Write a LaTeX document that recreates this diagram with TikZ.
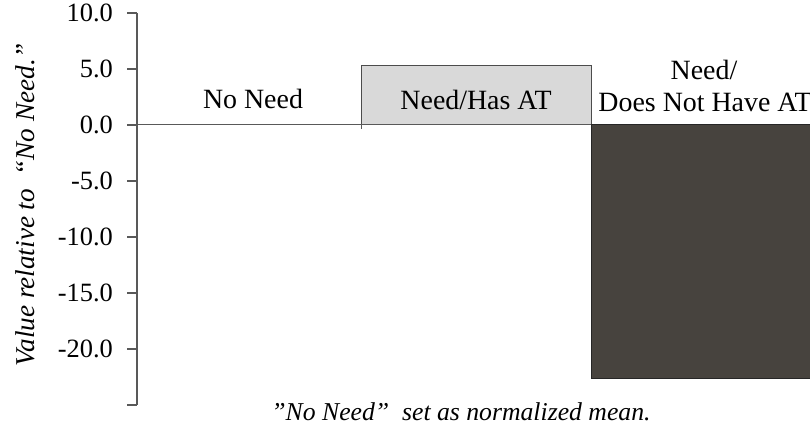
\documentclass[tikz,border=0pt]{standalone}
\usepackage{fontspec}
\setmainfont{Liberation Serif}
\begin{document}
\begin{tikzpicture}[x=1bp,y=-1bp,
  lbl/.style={font=\fontsize{28}{33}\selectfont, inner sep=0pt},
  ticklbl/.style={font=\fontsize{26.5}{31}\selectfont, inner sep=0pt, anchor=east},
  axisline/.style={draw=black!65, line width=1.2bp},
  tickline/.style={draw=black!65, line width=1.2bp},
  barlight/.style={fill=lightbar, draw=black!70, line width=1bp},
  bardark/.style={fill=darkbar, draw=black!85, line width=1bp}]
\definecolor{lightbar}{HTML}{D9D9D9}
\definecolor{darkbar}{HTML}{47433E}
\useasboundingbox (0,0) rectangle (810,435);

% bars
\path[barlight] (361,66) rectangle (591,125);
\path[bardark] (591,125) rectangle (812,378);

% zero line and category ticks
\coordinate (z0) at (137,125);
\coordinate (z1) at (591,125);
\draw[axisline, line width=1bp] (z0) -- (z1);
\draw[tickline, line width=1bp] (361,125) -- (361,129);

% value axis
\coordinate (atop) at (137,13);
\coordinate (abot) at (137,405);
\draw[axisline] (atop) -- (abot);
\foreach \v/\t in {10/10.0,5/5.0,0/0.0,-5/-5.0,-10/-10.0,-15/-15.0,-20/-20.0,-25/}{
  \pgfmathsetmacro{\yy}{125-11.2*\v}
  \draw[tickline] (127,\yy) -- (137,\yy);
  \node[ticklbl] (t\v) at (113,\yy) {\t};
}

% category labels
\node[lbl, anchor=base] (c1) at (253,109) {No Need};
\node[lbl, anchor=base] (c2) at (476,110) {Need/Has AT};
\node[lbl, anchor=base] (c3a) at (704,80) {Need/};
\node[lbl, anchor=base] (c3b) at (705,112) {Does Not Have AT};

% axis title and note
\node[lbl, rotate=90, font=\fontsize{27.3}{32}\selectfont\itshape] (ytitle) at (25,205) {Value relative to \ “No Need.”};
\node[lbl, font=\fontsize{25.8}{30}\selectfont\itshape] (note) at (461,412) {”No Need” \ set as normalized mean.};
\end{tikzpicture}
\end{document}
